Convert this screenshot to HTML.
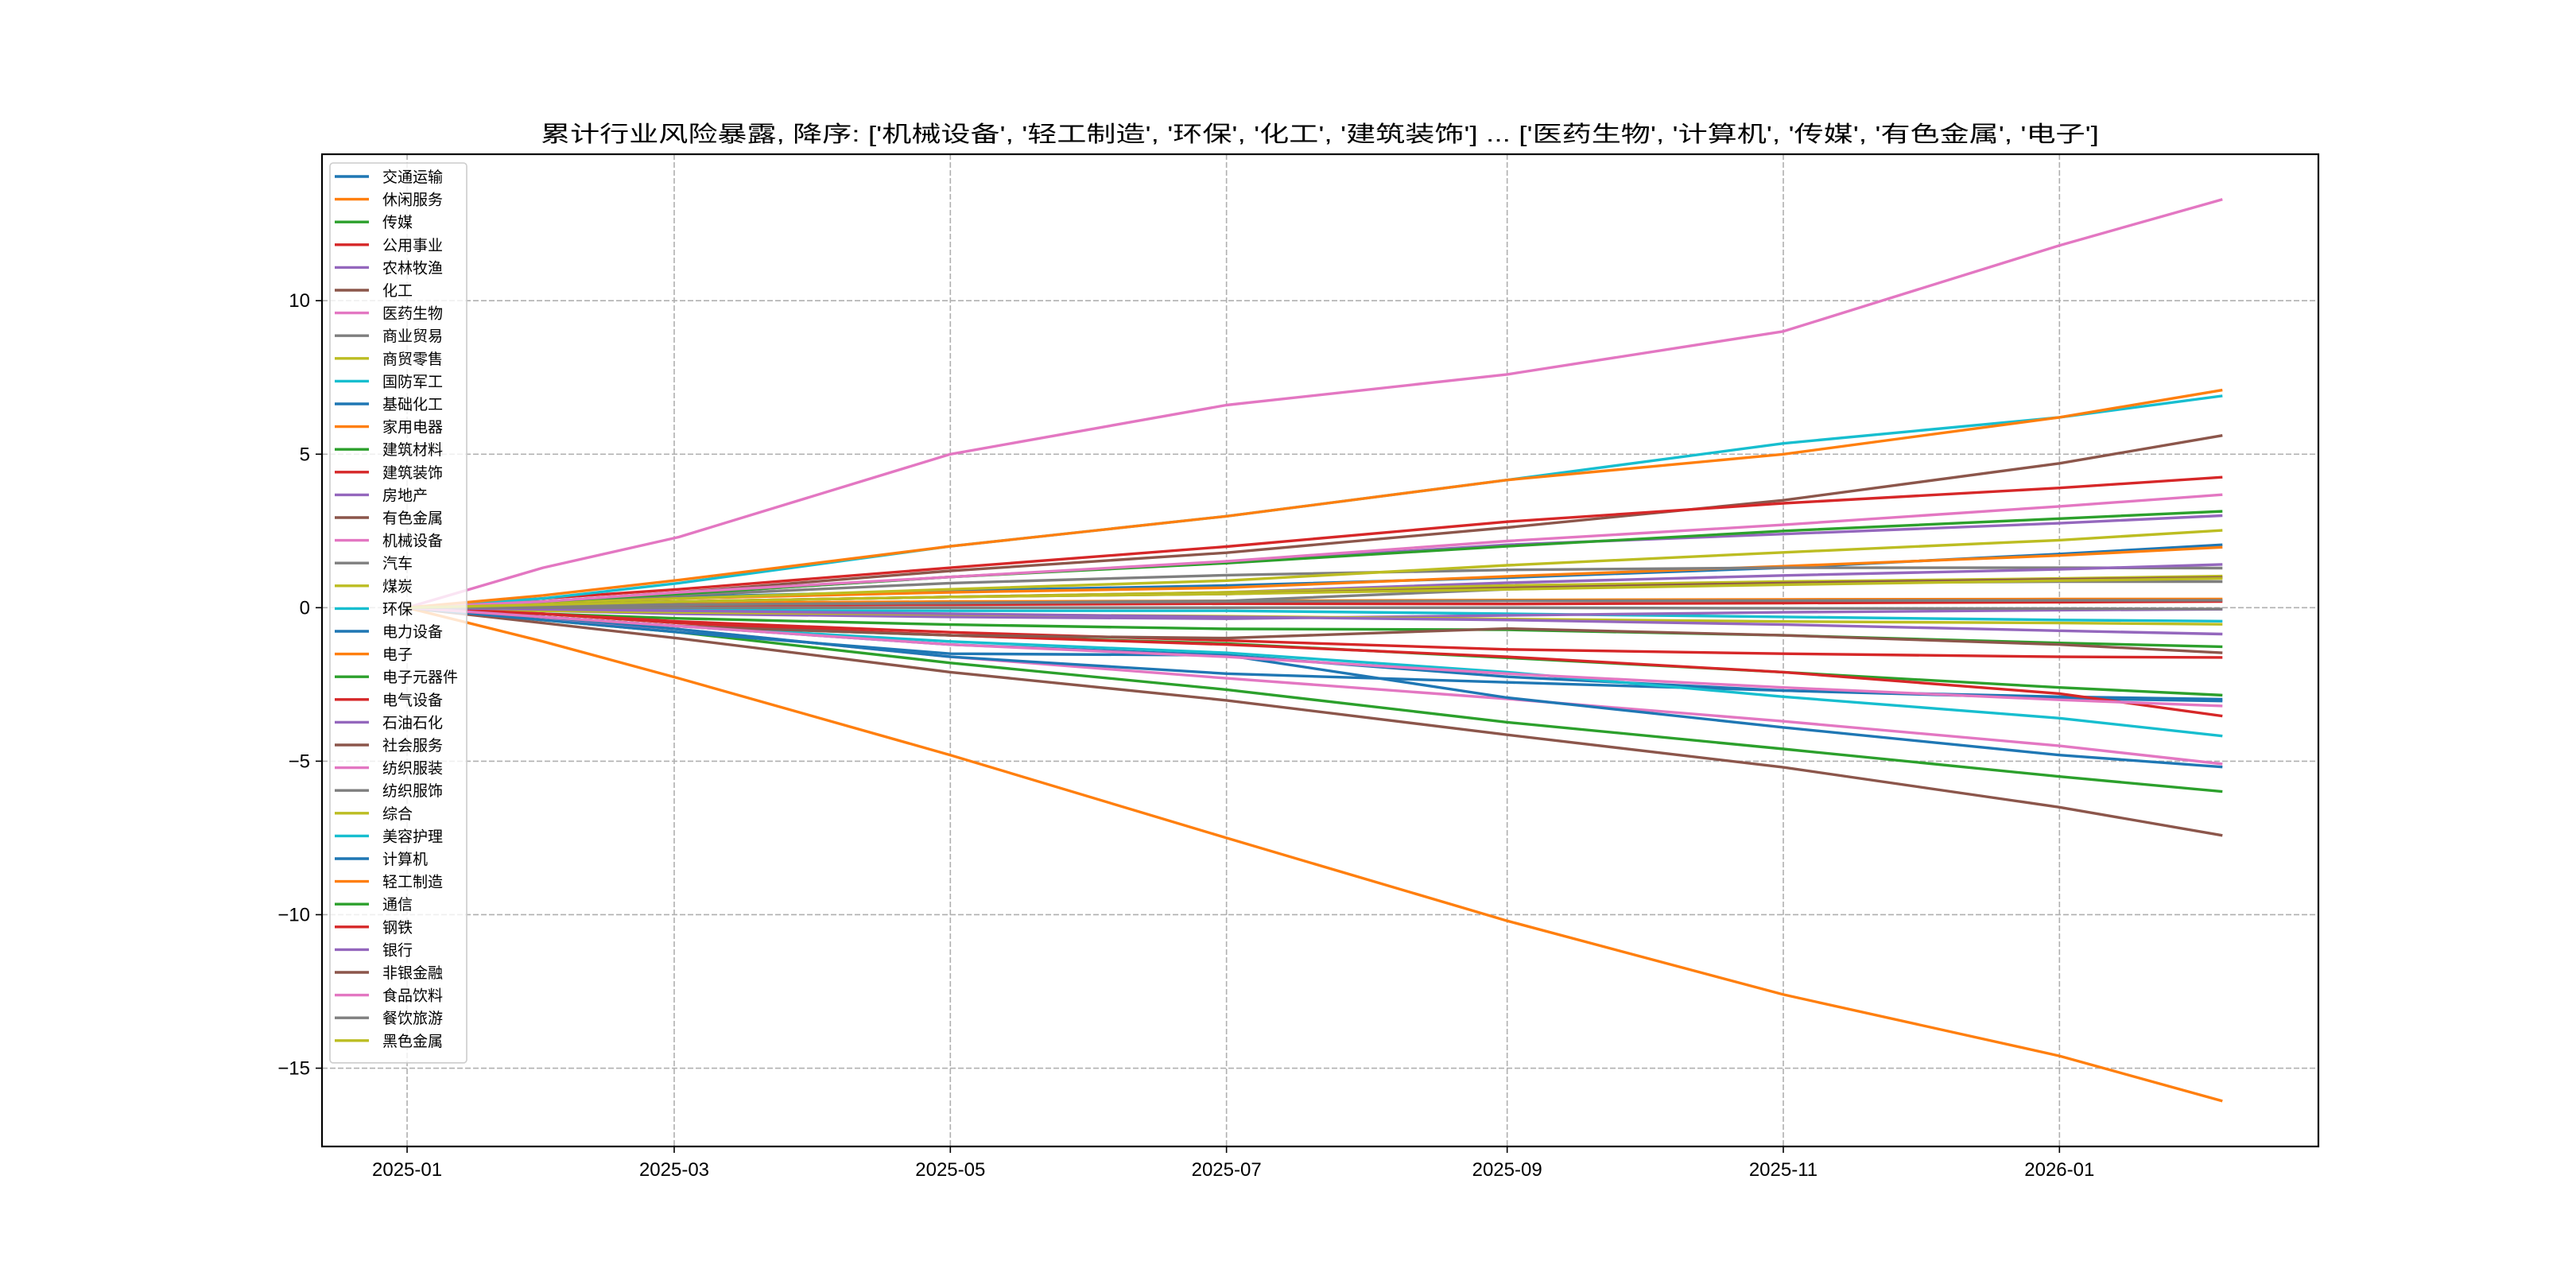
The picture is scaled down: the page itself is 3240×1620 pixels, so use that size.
<!DOCTYPE html>
<html><head><meta charset="utf-8">
<style>
html,body{margin:0;padding:0;background:#fff;}
svg{display:block;}
text{font-family:"Liberation Sans","Noto Sans CJK SC",sans-serif;fill:#000;}
</style></head>
<body>
<svg id="chart" width="3240" height="1620" viewBox="0 0 3240 1620" xmlns="http://www.w3.org/2000/svg">
<rect x="0" y="0" width="3240" height="1620" fill="#fff"/>
<text x="1660" y="178" text-anchor="middle" font-size="28" textLength="1960" lengthAdjust="spacingAndGlyphs">累计行业风险暴露, 降序: ['机械设备', '轻工制造', '环保', '化工', '建筑装饰'] ... ['医药生物', '计算机', '传媒', '有色金属', '电子']</text>
<g id="grid"></g>
<g id="series"></g>
<g id="axes"></g>
<g id="legend"></g>
</svg>
<script>
const checkDates = ["2025-01-01","2025-01-31","2025-03-02","2025-05-01","2025-07-01","2025-09-01","2025-11-01","2026-01-01","2026-02-06"];
const names = ["交通运输","休闲服务","传媒","公用事业","农林牧渔","化工","医药生物","商业贸易","商贸零售","国防军工","基础化工","家用电器","建筑材料","建筑装饰","房地产","有色金属","机械设备","汽车","煤炭","环保","电力设备","电子","电子元器件","电气设备","石油石化","社会服务","纺织服装","纺织服饰","综合","美容护理","计算机","轻工制造","通信","钢铁","银行","非银金融","食品饮料","餐饮旅游","黑色金属"];
const s00 = [0,0.2,0.35,0.55,0.72,0.98,1.3,1.75,2.05];
const s01 = [0,0.15,0.3,0.5,0.65,1.02,1.35,1.7,1.97];
const s02 = [0,-0.4,-0.8,-1.8,-2.67,-3.73,-4.6,-5.5,-5.99];
const s03 = [0,0.05,0.08,0.1,0.13,0.12,0.15,0.18,0.2];
const s04 = [0,0.2,0.45,1.0,1.48,2.05,2.4,2.75,3.0];
const s05 = [0,0.2,0.5,1.2,1.79,2.61,3.5,4.7,5.61];
const s06 = [0,-0.35,-0.7,-1.6,-2.3,-2.97,-3.7,-4.5,-5.09];
const s07 = [0,0.2,0.4,0.8,1.06,1.23,1.3,1.3,1.29];
const s08 = [0,0.15,0.3,0.6,0.88,1.38,1.8,2.2,2.52];
const s09 = [0,-0.05,-0.08,-0.1,-0.1,-0.2,-0.3,-0.4,-0.44];
const s10 = [0,-0.3,-0.6,-1.2,-1.55,-2.25,-2.7,-2.9,-2.98];
const s11 = [0,0.1,0.15,0.2,0.22,0.25,0.27,0.28,0.28];
const s12 = [0,0.2,0.45,1.0,1.45,2.0,2.5,2.9,3.14];
const s13 = [0,0.3,0.6,1.3,1.99,2.8,3.4,3.9,4.25];
const s14 = [0,0.1,0.2,0.35,0.5,0.81,1.05,1.25,1.41];
const s15 = [0,-0.5,-1.0,-2.1,-3.02,-4.14,-5.2,-6.5,-7.42];
const s16 = [0,1.3,2.3,5.0,6.6,7.6,9.0,11.8,13.3];
const s17 = [0,0.05,0.1,0.15,0.22,0.6,0.8,0.85,0.85];
const s18 = [0,0.1,0.2,0.35,0.5,0.72,0.85,0.95,1.03];
const s19 = [0,0.3,0.8,2.0,2.98,4.16,5.35,6.2,6.9];
const s20 = [0,-0.3,-0.7,-1.6,-2.15,-2.43,-2.7,-2.95,-3.04];
const s21 = [0,-1.1,-2.3,-4.8,-7.5,-10.2,-12.6,-14.6,-16.07];
const s22 = [0,-0.2,-0.35,-0.55,-0.69,-0.72,-0.9,-1.15,-1.27];
const s23 = [0,-0.2,-0.45,-0.8,-1.07,-1.36,-1.5,-1.6,-1.62];
const s24 = [0,-0.1,-0.2,-0.3,-0.36,-0.25,-0.15,-0.08,-0.05];
const s25 = [0,0.1,0.2,0.35,0.45,0.64,0.8,0.92,0.98];
const s26 = [0,0.2,0.5,1.0,1.51,2.17,2.7,3.3,3.68];
const s27 = [0,0.05,0.1,0.15,0.2,0.22,0.23,0.24,0.24];
const s28 = [0,-0.1,-0.15,-0.22,-0.28,-0.37,-0.45,-0.5,-0.54];
const s29 = [0,-0.3,-0.6,-1.1,-1.47,-2.1,-2.9,-3.6,-4.18];
const s30 = [0,-0.4,-0.8,-1.5,-1.55,-2.93,-3.9,-4.8,-5.19];
const s31 = [0,0.4,0.9,2.0,2.98,4.16,5.0,6.2,7.09];
const s32 = [0,-0.3,-0.6,-0.9,-1.17,-1.63,-2.1,-2.6,-2.85];
const s33 = [0,-0.2,-0.5,-0.9,-1.2,-1.6,-2.1,-2.8,-3.53];
const s34 = [0,-0.05,-0.1,-0.2,-0.3,-0.4,-0.55,-0.75,-0.86];
const s35 = [0,-0.3,-0.6,-0.9,-0.99,-0.68,-0.9,-1.2,-1.47];
const s36 = [0,-0.3,-0.6,-1.2,-1.6,-2.15,-2.6,-3.0,-3.2];
const s37 = [0,0,0,0,0,0,-0.02,-0.03,-0.04];
const s38 = [0,0.1,0.2,0.35,0.45,0.6,0.75,0.88,0.95];
const seriesValues = [s00,s01,s02,s03,s04,s05,s06,s07,s08,s09,s10,s11,s12,s13,s14,s15,s16,s17,s18,s19,s20,s21,s22,s23,s24,s25,s26,s27,s28,s29,s30,s31,s32,s33,s34,s35,s36,s37,s38];
const yTicks = [-15,-10,-5,0,5,10];
const yTickLabels = ["\u221215","\u221210","\u22125","0","5","10"];
const xTicks = ["2025-01-01","2025-03-01","2025-05-01","2025-07-01","2025-09-01","2025-11-01","2026-01-01"];
const xTickLabels = ["2025-01","2025-03","2025-05","2025-07","2025-09","2025-11","2026-01"];

const NS = "http://www.w3.org/2000/svg";
const palette = ["#1f77b4","#ff7f0e","#2ca02c","#d62728","#9467bd","#8c564b","#e377c2","#7f7f7f","#bcbd22","#17becf"];
const L=405, R=2916, T=194, B=1442;
const t0 = Date.parse("2025-01-01");
const dayOf = d => (Date.parse(d)-t0)/86400000;
const xMin = -18.8, xMax = 422.2, yMin = -17.55, yMax = 14.77;
const xs = d => L + (dayOf(d)-xMin)/(xMax-xMin)*(R-L);
const ys = v => B - (v-yMin)/(yMax-yMin)*(B-T);
function mk(tag, attrs, parent){const e=document.createElementNS(NS,tag);for(const k in attrs)e.setAttribute(k,attrs[k]);parent.appendChild(e);return e;}

const grid=document.getElementById('grid'), axes=document.getElementById('axes'), sg=document.getElementById('series'), lg=document.getElementById('legend');
xTicks.forEach((d,i)=>{
  const x=xs(d);
  const gl=mk('line',{x1:x,x2:x,y1:T,y2:B,stroke:'#b0b0b0','stroke-width':1.6,'stroke-dasharray':'7,3'},grid);
  
  
  const tk=mk('line',{x1:x,x2:x,y1:B,y2:B+8,stroke:'#000','stroke-width':1.6},axes);
  
  
  const tx=mk('text',{x:x,y:B+37,'text-anchor':'middle','font-size':24},axes);
  tx.textContent=xTickLabels[i];
  
  
});
yTicks.forEach((v,i)=>{
  const y=ys(v);
  const gl=mk('line',{x1:L,x2:R,y1:y,y2:y,stroke:'#b0b0b0','stroke-width':1.6,'stroke-dasharray':'7,3'},grid);
  
  
  const tk=mk('line',{x1:L-8,x2:L,y1:y,y2:y,stroke:'#000','stroke-width':1.6},axes);
  
  
  const tx=mk('text',{x:L-15,y:y+8,'text-anchor':'end','font-size':24},axes);
  tx.textContent=yTickLabels[i];
  
  
});
const frame=mk('rect',{x:L,y:T,width:R-L,height:B-T,fill:'none',stroke:'#000','stroke-width':2.2},axes);



seriesValues.forEach((vals,i)=>{
  const pts=vals.map((v,j)=>xs(checkDates[j]).toFixed(1)+','+ys(v).toFixed(1)).join(' ');
  const pl=mk('polyline',{points:pts,fill:'none',stroke:palette[i%10],'stroke-width':3.4,'stroke-linejoin':'round'},sg);
  
  
});

const lx=415, ly=205, step=28.6, n=names.length;
const box=mk('rect',{x:lx,y:ly,width:172,height:step*(n-1)+45,rx:4,fill:'#fff','fill-opacity':0.8,stroke:'#cccccc','stroke-width':1.6},lg);


names.forEach((nm,i)=>{
  const y=222+i*step;
  const hl=mk('line',{x1:421,x2:464,y1:y,y2:y,stroke:palette[i%10],'stroke-width':3.4},lg);
  
  
  const tx=mk('text',{x:481,y:y+7,'font-size':19},lg);
  tx.textContent=nm;
  
  
});
</script>
</body></html>
